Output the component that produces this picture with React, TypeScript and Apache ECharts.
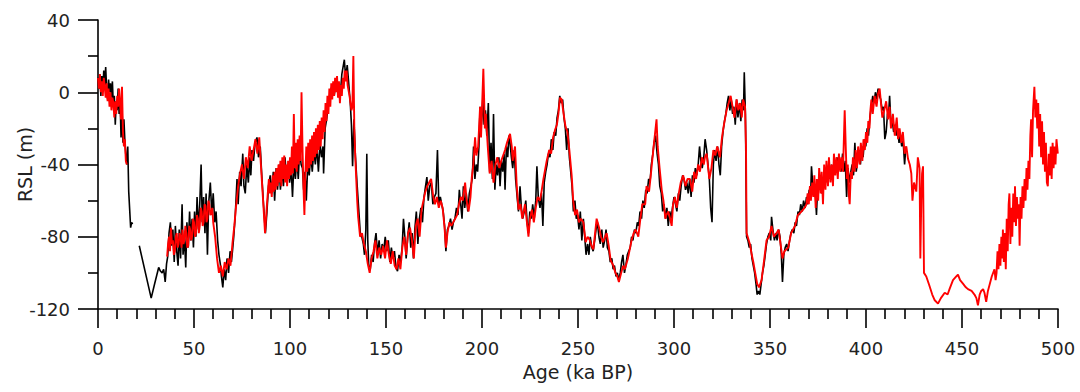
import React, { useEffect, useRef } from "react";
import * as echarts from "echarts";

// ---- Data (age in ka BP, RSL in m) ----
const xTicks = { min: 0, max: 500, interval: 50 };
const yTicks = { min: -120, max: 40, interval: 40 };

const blackA: number[][] = [
  [0, 8], [0.5, 2], [1, 10], [1.5, -2], [2, 9], [2.5, 0], [3, 12], [3.5, 4], [4, 14], [4.5, 2],
  [5, -4], [5.5, 7], [6, 0], [6.5, 5], [7, -3], [7.5, 6], [8, -8], [8.5, -2], [9, -18], [9.5, -5],
  [10, -10], [10.5, 2], [11, -12], [11.5, -4], [12, -25], [12.5, -8], [13, -28], [13.5, -15], [14, -27],
  [14.5, -35], [15, -40], [15.5, -30], [16, -55], [16.5, -65], [17, -75], [17.5, -72], [18, -73],
];

const blackB: number[][] = [
  [21.5, -85], [27.7, -114], [29.5, -106], [31.6, -97], [32.5, -99], [33.4, -100], [34.2, -98], [35, -105],
  [35.7, -95], [36.3, -91], [37, -78], [37.7, -72], [38.3, -85], [39, -76], [39.7, -94], [40.3, -74],
  [41, -88], [41.7, -96], [42.3, -76], [43, -92], [43.8, -62], [44.3, -90], [45, -80], [45.7, -97],
  [46.3, -72], [47, -86], [47.7, -66], [48.3, -82], [49, -70], [49.7, -86], [50.3, -66], [51, -80],
  [51.6, -58], [52.3, -76], [53, -62], [53.7, -40], [54.3, -72], [55, -58], [55.7, -78], [56.3, -56],
  [57, -90], [57.6, -62], [58.5, -50], [59.3, -68], [60, -56], [60.8, -72], [61.5, -66], [62.3, -82],
  [63, -90], [63.7, -95], [64.3, -102], [65, -108], [65.7, -98], [66.5, -104], [67.2, -92], [68, -100],
  [68.8, -88], [69.5, -94], [70.2, -86], [70.7, -80], [71.5, -68], [72.4, -48], [73, -62], [73.8, -44],
  [74.5, -52], [75.4, -34], [76, -52], [76.7, -56], [77.5, -40], [78.3, -50], [79, -36], [79.6, -46],
  [80.2, -32], [81, -38], [81.8, -28], [82.8, -25], [83.6, -36], [84.5, -30], [85.3, -46], [86.2, -62],
  [87.2, -78], [88, -66], [88.8, -52], [89.7, -46], [90.5, -56], [91.3, -44], [92, -60], [92.8, -42],
  [93.5, -54], [94.3, -40], [95, -54], [95.8, -44], [96.6, -52], [97.4, -36], [98.2, -48], [99, -40],
  [99.8, -50], [100.6, -42], [101.3, -58], [102, -40], [102.8, -48], [103.6, -36], [104.3, -48], [105, -32],
  [105.8, -40], [106.5, -42], [107.1, -54], [107.8, -44], [108.5, -60], [109.3, -38], [110, -46], [110.8, -34],
  [111.6, -44], [112.4, -32], [113.2, -40], [114, -30], [114.8, -44], [115.6, -28], [116.4, -36], [117.2, -30],
  [117.5, -45], [118.3, -20], [119.2, -14], [120, -6], [121, 0], [122, 4], [123, -2], [124, 6], [125, 2],
  [126, -4], [127, 10], [128.3, 18], [129, 8], [129.8, 15], [130.5, 6], [131.4, -6], [132, -18], [132.6, -41],
  [133.3, -15], [134, -34], [135, -52], [135.8, -65], [136.6, -78], [137.4, -80], [138.2, -84], [138.8, -90],
  [139.5, -76], [140, -34], [140.5, -82], [141, -96], [141.8, -98], [142.5, -90], [143.3, -94], [144, -84],
  [144.8, -78], [145.6, -90], [146.4, -82], [147.2, -92], [148, -84], [148.8, -88], [149.6, -80], [150.4, -88],
  [151.2, -82], [152, -94], [152.8, -86], [153.6, -92], [154.4, -88], [155.2, -97], [156, -99], [156.8, -90],
  [157.6, -94], [158.4, -86], [159.1, -70], [159.8, -80], [160.5, -92], [161.3, -80], [162.1, -72], [162.9, -86],
  [163.6, -78], [164.3, -92], [165, -76], [165.8, -66], [166.6, -84], [167.4, -70], [168.2, -64], [169, -72],
  [169.8, -58], [170.6, -52], [171.3, -47], [172, -60], [172.8, -52], [173.6, -50], [174.4, -62], [175.2, -58],
  [176, -56], [176.8, -32], [177.5, -62], [178.3, -58], [179, -62], [179.8, -66], [180.5, -74], [181.2, -88],
  [182, -76], [182.8, -74], [183.6, -70], [184.4, -76], [185.1, -72], [185.9, -70], [186.7, -64], [187.5, -68],
  [188.2, -54], [188.9, -62], [189.6, -70], [190.3, -52], [191, -64], [191.8, -56], [192.6, -66], [193.4, -56],
  [194.2, -52], [194.9, -48], [195.6, -30], [196.3, -48], [197, -40], [197.7, -44], [198.4, -30], [199, -8],
  [199.7, -18], [200.4, -4], [201.1, -18], [201.8, -10], [202.5, -24], [203.3, -6], [204, -44], [204.7, -28],
  [205.4, -48], [206, -12], [206.7, -54], [207.4, -40], [208.1, -46], [208.8, -36], [209.4, -52], [210.1, -38],
  [210.8, -44], [211.5, -34], [212, -54], [212.7, -30], [213.4, -36], [214, -24], [214.6, -28], [215.3, -36],
  [216, -42], [216.8, -32], [217.5, -48], [218.3, -58], [219, -66], [219.8, -52], [220.5, -64], [221.2, -70],
  [222, -66], [222.8, -60], [223.5, -72], [224.2, -78], [224.9, -66], [225.7, -70], [226.4, -62], [227.2, -70],
  [228, -60], [228.6, -41], [229.3, -58], [230.2, -64], [231, -56], [231.7, -74], [232.4, -50], [233.2, -44],
  [233.9, -40], [234.6, -34], [235.4, -36], [236.1, -26], [236.9, -32], [237.6, -22], [238.4, -24], [239.1, -14],
  [239.8, -10], [240.5, -2], [241.2, -6], [242, -4], [242.7, -14], [243.4, -20], [244.1, -32], [244.8, -20],
  [245.5, -36], [246.2, -44], [246.9, -52], [247.6, -66], [248.4, -60], [249.1, -70], [249.8, -68], [250.5, -76],
  [251.2, -66], [252, -82], [252.8, -70], [253.5, -80], [254.2, -90], [255, -84], [255.7, -90], [256.4, -80],
  [257.2, -86], [257.9, -88], [258.7, -82], [259.4, -76], [260.1, -72], [260.9, -80], [261.6, -84], [262.4, -76],
  [263.1, -86], [263.9, -82], [264.6, -76], [265.3, -86], [266.1, -88], [266.8, -94], [267.6, -92], [268.3, -98],
  [269, -96], [269.8, -102], [270.5, -100], [271.2, -104], [272, -100], [272.7, -94], [273.4, -90], [274.2, -100],
  [274.9, -96], [275.7, -90], [276.4, -88], [277.2, -86], [277.9, -80], [278.6, -82], [279.4, -76], [280.1, -78],
  [280.9, -72], [281.6, -74], [282.3, -66], [283.1, -70], [283.8, -60], [284.5, -64], [285.3, -54], [286, -56],
  [286.8, -48], [287.5, -50], [288.2, -40], [289, -34], [289.6, -28], [290.4, -24], [291.2, -34], [291.9, -40],
  [292.6, -52], [293.4, -56], [294.1, -66], [294.8, -62], [295.6, -70], [296.3, -64], [297, -74], [297.8, -66],
  [298.5, -70], [299.2, -64], [300, -58], [300.8, -62], [301.5, -66], [302.3, -56], [303, -60], [303.7, -52],
  [304.5, -46], [305.2, -48], [306, -54], [306.7, -50], [307.4, -56], [308.2, -48], [308.9, -58], [309.6, -46],
  [310.4, -50], [311.1, -42], [311.8, -46], [312.6, -40], [313.3, -30], [314, -38], [314.7, -42], [315.5, -36],
  [316.2, -26], [317, -32], [317.7, -40], [318.4, -48], [319.1, -64], [319.8, -72], [320.5, -40], [321.2, -32],
  [321.9, -38], [322.7, -30], [323.4, -40], [324.1, -46], [324.8, -30], [325.5, -22], [326.3, -16], [327, -12],
  [327.7, -6], [328.4, -2], [329.1, -10], [329.8, -4], [330.5, -12], [331.2, -8], [331.9, -18], [332.6, -4],
  [333.3, -14], [334.1, -6], [334.8, -16], [335.5, -4], [336.2, -10], [336.6, 11], [337.2, -12], [337.8, -80],
  [338.5, -82], [339.2, -86], [339.9, -84], [340.6, -92], [341.3, -96], [342, -100], [342.7, -106], [343.3, -112],
  [344, -110], [344.7, -112], [345.4, -106], [346.1, -100], [346.8, -96], [347.5, -90], [348.2, -84], [348.9, -80],
  [349.6, -78], [350.4, -82], [350.8, -69], [351.5, -76], [352.3, -82], [353, -78], [353.7, -82], [354.5, -76],
  [355.2, -80], [355.9, -90], [356.5, -105], [357.2, -90], [357.9, -86], [358.7, -84], [359.4, -88], [360.2, -82],
  [360.9, -78], [361.6, -76], [362.4, -78], [363.1, -72], [363.8, -74], [364.6, -66], [365.3, -68], [366, -62],
  [366.8, -66], [367.5, -60], [368.3, -64], [369, -58], [369.7, -62], [370.4, -54], [371.2, -56], [371.6, -41],
  [372.3, -52], [373, -50], [373.7, -58], [374.2, -68], [374.9, -50], [375.6, -54], [376.3, -46], [377, -56],
  [377.7, -48], [378.4, -52], [379.2, -44], [379.9, -50], [380.6, -42], [381.3, -48], [382, -40], [382.7, -46],
  [383.4, -38], [384.2, -44], [384.9, -36], [385.6, -42], [386.3, -38], [387, -44], [387.8, -34], [388.5, -44],
  [389.2, -38], [389.9, -58], [390.6, -42], [391.4, -50], [392.1, -44], [392.8, -40], [393.5, -46], [394.2, -28],
  [394.9, -44], [395.6, -38], [396.3, -32], [397.1, -40], [397.8, -30], [398.5, -36], [399.2, -26], [399.9, -30],
  [400.6, -20], [401.3, -24], [402, -14], [402.8, -8], [403.5, -2], [404.2, -6], [404.9, 0], [405.6, -4],
  [406.3, 2], [407, -2], [407.7, -4], [408.4, -10], [409.1, -8], [409.8, -26], [410.5, -22], [411.2, -12],
  [411.9, -10], [412.3, -2], [413, -18], [413.7, -16], [414.4, -22], [415.1, -18], [415.8, -24], [416.5, -20],
  [417.2, -28], [417.9, -24], [418.6, -30], [419.3, -26], [420.1, -40], [420.8, -30],
];

const redA: number[][] = [
  [0, 8], [0.5, 2], [1, 10], [1.5, 0], [2, 6], [2.5, -2], [3, 8], [3.5, 3], [4, -3], [4.5, 5],
  [5, -5], [5.5, 2], [6, -8], [6.5, 0], [7, -10], [7.5, -3], [8, -6], [8.5, -14], [9, -5], [9.5, -12],
  [10, -2], [10.5, -8], [11, 2], [11.5, -6], [12, -15], [12.5, 3], [13, -22], [13.5, -30], [14, -26],
  [14.5, -38], [15, -40],
];

const redB: number[][] = [
  [36, -91], [36.5, -84], [37, -80], [37.5, -88], [38, -75], [38.5, -84], [39, -82], [39.5, -90], [40, -88],
  [40.5, -80], [41, -78], [41.5, -86], [42, -84], [42.5, -78], [43, -80], [43.5, -86], [44, -76], [44.5, -84],
  [45, -82], [45.5, -74], [46, -78], [46.5, -86], [47, -85], [47.5, -74], [48, -76], [48.5, -82], [49, -80],
  [49.5, -70], [50, -72], [50.5, -80], [51, -78], [51.5, -68], [52, -70], [52.5, -78], [53, -74], [53.5, -64],
  [54, -66], [54.5, -74], [55, -72], [55.5, -62], [56, -63], [56.5, -72], [57, -70], [57.5, -60], [58, -62],
  [58.5, -68], [59, -67], [59.5, -64], [60, -72], [61, -80], [62, -92], [63, -100], [64, -96], [65, -102],
  [66, -94], [67, -98], [68, -92], [69, -96], [70, -84], [71, -74], [72, -62], [73, -52], [74, -45], [75, -40],
  [76, -48], [77, -36], [78, -42], [79, -30], [80, -38], [81, -32], [82, -26], [83, -34], [84, -25], [85, -43],
  [86, -60], [87, -78], [88, -62], [89, -48], [89.5, -56], [90, -50], [90.5, -58], [91, -46], [91.5, -55],
  [92, -44], [92.5, -54], [93, -42], [93.5, -52], [94, -40], [94.5, -50], [95, -38], [95.5, -52], [96, -36],
  [96.5, -48], [97, -35], [97.5, -50], [98, -40], [98.5, -52], [99, -38], [99.5, -48], [100, -36], [100.5, -46],
  [101, -30], [101.5, -45], [102, -12], [102.5, -42], [103, -28], [103.5, -44], [104, -26], [104.5, -40],
  [105, -24], [105.5, -38], [106, 0], [106.5, -30], [107, -52], [107.5, -68], [108, -46], [108.5, -30],
  [109, -44], [109.5, -28], [110, -42], [110.5, -26], [111, -40], [111.5, -24], [112, -38], [112.5, -22],
  [113, -36], [113.5, -20], [114, -34], [114.5, -18], [115, -32], [115.5, -16], [116, -30], [116.5, -14],
  [117, -26], [117.5, -10], [118, -22], [118.5, -6], [119, -16], [119.5, -2], [120, -12], [120.5, 2],
  [121, -8], [121.5, 5], [122, -4], [122.5, 6], [123, -2], [123.5, 8], [124, 0], [124.5, 9], [125, -3],
  [125.5, 6], [126, -6], [126.5, 4], [127, -2], [127.5, 8], [128, 2], [128.5, 12], [129, 6], [129.5, 12],
  [130, 4], [131, -2], [132, -10], [132.5, -8], [133, 20], [133.5, -20], [134, -36],
  [135, -60], [135.5, -69], [136.5, -80], [137.5, -78], [138.5, -84], [139.5, -88], [140.5, -95], [141.5, -100],
  [142.5, -92], [143.5, -88], [144.5, -82], [145.5, -92], [146.5, -86], [147.5, -90], [148.5, -85], [149.5, -92],
  [150.5, -82], [151.5, -90], [152.5, -95], [153.5, -88], [154.5, -96], [155.5, -98], [156.5, -92], [157.5, -98],
  [158.5, -86], [159.5, -80], [160.5, -90], [161.5, -78], [162.5, -75], [163.5, -82], [164.5, -92], [165.5, -74],
  [166.5, -70], [167.5, -80], [168.5, -65], [169.5, -60], [170.5, -55], [171.5, -52], [172.5, -50], [173.5, -48],
  [174.5, -57], [175.5, -62], [176.5, -58], [177.5, -64], [178.5, -60], [179.5, -64], [180.5, -75], [181.2, -86],
  [182, -78], [183, -72], [184, -74], [185, -72], [186, -70], [187, -68], [188, -62], [189, -58], [190, -60],
  [191.2, -50], [192, -60], [193, -66], [194, -58], [194.7, -47], [195.5, -40], [196.4, -25], [197, -35],
  [198, -30], [199, -8], [199.5, -25], [200.7, 13], [201.5, -20], [202, -12], [203, -30], [204, -45], [205, -38],
  [206, -50], [207, -40], [208, -36], [209, -42], [210, -38], [211, -35], [212, -32], [213, -28], [214.6, -23],
  [215.5, -30], [216, -38], [217.2, -30], [218, -50], [219, -65], [220, -62], [221, -70], [222.4, -62], [223, -68],
  [224.2, -80], [225, -70], [226, -65], [227, -72], [228, -64], [229, -58], [230.2, -60], [231, -55], [232, -48],
  [233.7, -38], [235, -32], [236, -34], [237, -25], [238, -21], [239, -18], [239.8, -12], [240.6, -3],
  [241.5, -4], [242.5, -12], [243.5, -19], [244.5, -22], [245.5, -32], [246.7, -46], [247.5, -60], [248.5, -68],
  [249.5, -65], [250.5, -72], [251.5, -70], [252.8, -72], [254, -83], [255, -80], [256.2, -82], [257, -85],
  [258, -87], [259.7, -70], [261, -75], [262, -80], [263, -83], [264.9, -78], [266, -85], [267, -93], [268.4, -96],
  [269.5, -100], [270.5, -102], [271.3, -105], [272.5, -100], [273.5, -96], [274.4, -98], [276, -92],
  [277.9, -82], [279, -78], [280, -76], [281.4, -80], [282.5, -70], [283.5, -62], [285, -62], [285.7, -52],
  [287, -55], [288, -45], [289.2, -32], [290.9, -15], [291.5, -30], [292.5, -42], [293.6, -54], [294.5, -60],
  [295.5, -70], [296, -68], [297, -66], [298, -70], [298.8, -74], [299.5, -62], [300.5, -58], [301.4, -64],
  [302.5, -56], [303.5, -50], [304.8, -46], [306, -52], [307, -48], [308.3, -48], [309.5, -55], [310.5, -44],
  [311.5, -48], [312.6, -40], [313.5, -44], [314.5, -36], [315.5, -40], [316.1, -36], [317, -34], [318.4, -48],
  [319.5, -42], [320.5, -32], [321.5, -35], [322.5, -30], [323.9, -36], [325, -25], [325.7, -20], [326.5, -15],
  [327.4, -10], [328.5, -6], [329.5, -2], [330.5, -8], [331.5, -14], [332.6, -4], [333.5, -10], [334.5, -6],
  [335.3, -14], [336, -4], [337, -8], [337.5, -30], [337.8, -78], [339.5, -84], [340.5, -90], [341.3, -94],
  [342.3, -100], [343.3, -106], [344.3, -108], [345.6, -104], [346.8, -94], [348.2, -82], [349.5, -80],
  [350.8, -74], [352, -80], [353.4, -78], [354.5, -76], [355.5, -84], [356.5, -92], [357.5, -88], [359.5, -86],
  [361, -78], [363, -74], [364.5, -68], [366.4, -66], [368, -64], [369, -62], [369.6, -56], [370.2, -62],
  [370.8, -52], [371.3, -60], [372, -50], [372.6, -58], [373.1, -46], [373.8, -64], [374.4, -48], [375.1, -60],
  [375.6, -42], [376.4, -56], [376.9, -44], [377.6, -62], [378.2, -40], [378.9, -54], [379.4, -38], [380.2, -52],
  [380.7, -36], [381.5, -50], [382.1, -40], [382.8, -52], [383.3, -34], [384, -46], [384.6, -36], [385.3, -48],
  [385.9, -34], [386.6, -44], [387.2, -36], [388, -44], [388.9, -10], [389.5, -32], [390, -48], [390.5, -40],
  [391, -56], [391.5, -62], [392.1, -44], [392.7, -48], [393.2, -36], [394, -44], [394.6, -32], [395.3, -42],
  [395.9, -30], [396.7, -40], [397.3, -28], [398.1, -38], [398.7, -26], [399.4, -32], [400, -22], [400.7, -28],
  [401.2, -16], [401.8, -20], [402.3, -10], [402.8, -4],
  [403.5, -12], [404.5, -2], [405.5, -8], [406.2, -1], [407.1, 2],
  [407.8, -6], [408.5, -14], [409.5, -10], [410.5, -5], [411.5, -15], [412.3, -8], [413, -20], [414, -12],
  [415, -24], [416, -14], [416.7, -26], [417.5, -20], [418.4, -28], [419.2, -22], [420.1, -34], [421, -30],
  [421.9, -37], [422.8, -40], [423.6, -45], [424.2, -60], [425, -50], [426.2, -55], [427, -36], [427.9, -42],
  [428.3, -92], [428.8, -60], [429.2, -45], [429.7, -41], [430.2, -100], [431.4, -102], [433, -107],
  [434.5, -112], [435.7, -115], [437.5, -117], [439, -114], [441, -111], [442.5, -112], [443.5, -109],
  [445.3, -104], [447, -102], [447.9, -101], [449, -104], [450.5, -106], [452, -108], [453.1, -109], [455, -110],
  [456.5, -112], [457.5, -114], [458.3, -118], [459.2, -112], [460, -110], [461, -109], [461.7, -111],
  [462.6, -116], [463.5, -110], [464.5, -106], [465.5, -102], [466.9, -98], [467.5, -104], [468, -100],
  [468.5, -88], [469, -98], [469.5, -84], [470, -96], [470.5, -80], [471, -92], [471.3, -76], [471.8, -94],
  [472.3, -78], [472.8, -98], [473.3, -70], [473.8, -88], [474.3, -62], [474.7, -56], [475.2, -84],
  [475.7, -64], [476.2, -80], [476.7, -56], [477.2, -72], [477.6, -52], [478.1, -74], [478.6, -58],
  [479.1, -70], [479.6, -62], [480, -85], [480.5, -58], [481, -70], [481.5, -52], [482, -64], [482.6, -48],
  [483.1, -60], [483.6, -42], [484.1, -54], [484.6, -38], [485.1, -48], [485.6, -24], [486, -15], [486.5, -36],
  [487, -10], [487.7, 3], [488.2, -14], [488.7, -4], [489.2, -20], [489.7, -6], [490.2, -30], [490.7, -12],
  [491.2, -36], [491.7, -16], [492.2, -40], [492.7, -22], [493.2, -44], [493.7, -28], [494.2, -50],
  [494.7, -52], [495.2, -34], [495.7, -46], [496.2, -30], [496.7, -48], [497.2, -28], [497.7, -42],
  [498.2, -30], [498.7, -40], [499.2, -26], [499.9, -34],
];

const FONT = "'DejaVu Sans', 'Liberation Sans', Arial, sans-serif";

export default function App() {
  const ref = useRef<HTMLDivElement>(null);
  useEffect(() => {
    if (!ref.current) return;
    const chart = echarts.init(ref.current, null, { renderer: "svg" });
    const mk = (data: number[][], color: string, width: number) => ({
      type: "line",
      data,
      showSymbol: false,
      symbol: "none",
      lineStyle: { color, width },
      itemStyle: { color },
      silent: true,
    });
    chart.setOption({
      animation: false,
      backgroundColor: "#ffffff",
      grid: { left: 98, right: 22, top: 20, bottom: 83, containLabel: false, outerBoundsMode: "none" },
      xAxis: {
        type: "value",
        min: xTicks.min,
        max: xTicks.max,
        interval: xTicks.interval,
        name: "Age (ka BP)",
        nameLocation: "middle",
        nameGap: 53,
        nameMoveOverlap: false,
        nameTextStyle: { fontFamily: FONT, fontSize: 19, color: "#222" },
        axisLine: { show: true, onZero: false, lineStyle: { color: "#000", width: 1.6 } },
        axisTick: { show: true, inside: false, length: 19, lineStyle: { color: "#000", width: 1.6 } },
        minorTick: { show: true, splitNumber: 5, length: 10, lineStyle: { color: "#000", width: 1.6 } },
        axisLabel: { margin: 30, fontFamily: FONT, fontSize: 18, color: "#222" },
        splitLine: { show: false },
      },
      yAxis: {
        type: "value",
        min: yTicks.min,
        max: yTicks.max,
        interval: yTicks.interval,
        name: "RSL (m)",
        nameLocation: "middle",
        nameGap: 64,
        nameMoveOverlap: false,
        nameRotate: 90,
        nameTextStyle: { fontFamily: FONT, fontSize: 19, color: "#222" },
        axisLine: { show: true, onZero: false, lineStyle: { color: "#000", width: 1.6 } },
        axisTick: { show: true, inside: false, length: 20, lineStyle: { color: "#000", width: 1.6 } },
        minorTick: { show: true, splitNumber: 2, length: 10, lineStyle: { color: "#000", width: 1.6 } },
        axisLabel: { margin: 28, fontFamily: FONT, fontSize: 18, color: "#222" },
        splitLine: { show: false },
      },
      series: [
        mk(blackA, "#000000", 1.6),
        mk(blackB, "#000000", 1.6),
        mk(redA, "#ff0000", 1.9),
        mk(redB, "#ff0000", 1.9),
      ],
    });
    return () => chart.dispose();
  }, []);
  return (
    <div
      ref={ref}
      style={{ position: "fixed", left: 0, top: 0, width: 1080, height: 392, background: "#fff" }}
    />
  );
}
